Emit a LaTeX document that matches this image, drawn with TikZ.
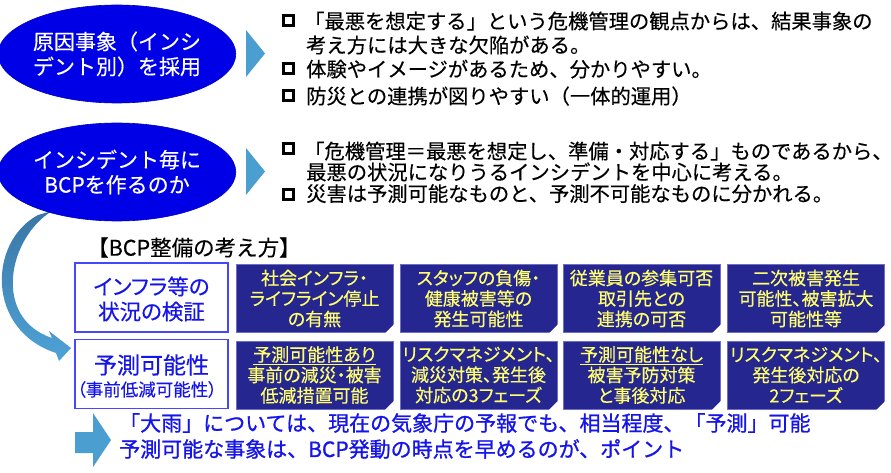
\documentclass[tikz,border=0pt]{standalone}
\usepackage{fontspec}
\setmainfont{Noto Sans CJK JP}[FakeBold=0.3]
\newfontfamily\pfont{Noto Sans CJK JP}[RawFeature=+palt,FakeBold=0.3]
\newfontfamily\bfnt{Noto Sans CJK JP}[FakeBold=0.9]
\usetikzlibrary{shapes.geometric}
\definecolor{ellblue}{RGB}{0,0,230}
\definecolor{chevblue}{RGB}{75,158,208}
\definecolor{navy}{RGB}{38,38,145}
\definecolor{dboxedge}{RGB}{110,110,200}
\definecolor{yel}{RGB}{255,255,110}
\definecolor{lboxblue}{RGB}{70,70,255}
\definecolor{ltxtblue}{RGB}{20,20,235}
\definecolor{arrtop}{RGB}{58,118,165}
\definecolor{arrbot}{RGB}{78,162,215}
\tikzset{
 ell/.style={ellipse, fill=ellblue, draw=ellblue!85!black, line width=0.6pt, minimum width=234pt, minimum height=98pt, text=white, align=center, inner sep=0pt, font=\fontsize{21}{25}\selectfont},
 chev/.style={fill=chevblue},
 btxt/.style={anchor=base west, inner sep=0pt, font=\fontsize{20.3}{23}\selectfont},
 bsq/.style={draw=black, line width=3pt, minimum size=10pt, inner sep=0pt},
 lbox/.style={draw=lboxblue, line width=1.2pt, fill=white, minimum width=153pt, minimum height=69pt, inner sep=0pt},
 ltxt/.style={text=ltxtblue, align=center, inner sep=0pt},
 dbox/.style={draw=dboxedge, line width=0.8pt, fill=navy, minimum width=157pt, minimum height=68pt, inner sep=0pt, text=yel, align=center, font=\pfont\fontsize{18}{20.5}\selectfont},
}
\newcommand{\foldcorner}[1]{\fill[white] ([shift={(-9,1)}]#1.south east) -- ([shift={(1,1)}]#1.south east) -- ([shift={(1,-9)}]#1.south east) -- cycle;}
\begin{document}
\begin{tikzpicture}[x=1pt,y=-1pt]
\useasboundingbox (0,0) rectangle (891,473);
\fill[white] (0,0) rectangle (891,473);

% curved arrow
\shade[top color=arrtop, bottom color=arrbot]
 (38,215) -- (52,211)
 .. controls (8,238) and (-8,318) .. (52,338)
 -- (49,331) -- (71,348) -- (59,361) -- (56,353)
 .. controls (-14,330) and (-12,242) .. (38,215) -- cycle;

% ellipses
\node[ell] (e1) at (117,54) {原因事象（インシ\\デント別）を採用};
\node[ell] (e2) at (117,172) {インシデント毎に\\BCPを作るのか};

% chevrons
\fill[chev] (246,30) -- (265,53.5) -- (246,77) -- cycle;
\fill[chev] (246,148) -- (265,171.5) -- (246,195) -- cycle;

% bullets block 1
\node[bsq] (s1) at (288.5,21) {};
\node[bsq] (s2) at (288.5,69) {};
\node[bsq] (s3) at (288.5,96) {};
\node[btxt] (t1) at (304,28.8) {「最悪を想定する」という危機管理の観点からは、結果事象の};
\node[btxt] (t2) at (306,52.8) {考え方には大きな欠陥がある。};
\node[btxt] (t3) at (306,76.8) {体験やイメージがあるため、分かりやすい。};
\node[btxt] (t4) at (306,103.8) {防災との連携が図りやすい（一体的運用）};

% bullets block 2
\node[bsq] (s4) at (288.5,149) {};
\node[bsq] (s5) at (288.5,194.5) {};
\node[btxt] (t5) at (304,158.8) {「危機管理＝最悪を想定し、準備・対応する」ものであるから、};
\node[btxt] (t6) at (306,179.8) {最悪の状況になりうるインシデントを中心に考える。};
\node[btxt] (t7) at (306,201.3) {災害は予測可能なものと、予測不可能なものに分かれる。};

% title
\node[anchor=west, inner sep=0pt, font=\fontsize{21.5}{24}\selectfont] (title) at (87,247.5) {【BCP整備の考え方】};

% left boxes
\node[lbox] (l1) at (151.5,297.5) {};
\node[ltxt, font=\pfont\fontsize{21.5}{25}\selectfont] (l1t) at (151.5,299) {インフラ等の\\状況の検証};
\node[lbox] (l2) at (151.5,374) {};
\node[ltxt, font=\pfont\fontsize{23}{26}\selectfont] (l2a) at (151.5,365) {予測可能性};
\node[ltxt, font=\pfont\fontsize{17.5}{20}\selectfont] (l2b) at (147,389.5) {（事前低減可能性）};

% dark boxes row 1
\node[dbox] (d11) at (314.5,298.5) {社会インフラ・\\ライフライン停止\\の有無};
\node[dbox] (d12) at (478.5,298.5) {スタッフの負傷・\\健康被害等の\\発生可能性};
\node[dbox] (d13) at (641.5,298.5) {従業員の参集可否\\取引先との\\連携の可否};
\node[dbox] (d14) at (806,298.5) {二次被害発生\\可能性、被害拡大\\可能性等};
% dark boxes row 2
\node[dbox] (d21) at (314.5,375) {\underline{予測可能性あり}\\事前の減災・被害\\低減措置可能};
\node[dbox] (d22) at (478.5,375) {リスクマネジメント、\\減災対策、発生後\\対応の3フェーズ};
\node[dbox] (d23) at (641.5,375) {\underline{予測可能性なし}\\被害予防対策\\と事後対応};
\node[dbox] (d24) at (806,375) {リスクマネジメント、\\発生後対応の\\2フェーズ};
\foldcorner{d11}\foldcorner{d12}\foldcorner{d13}\foldcorner{d14}
\foldcorner{d21}\foldcorner{d22}\foldcorner{d23}\foldcorner{d24}

% bottom block arrow
\fill[chevblue] (75,432) -- (93,432) -- (93,413) -- (111,440) -- (93,467) -- (93,453) -- (75,453) -- cycle;

% bottom text
\node[anchor=west, inner sep=0pt, align=left, text=ltxtblue, font=\bfnt\fontsize{21}{26}\selectfont] (bt) at (119,436) {「大雨」については、現在の気象庁の予報でも、相当程度、「予測」可能\\予測可能な事象は、BCP発動の時点を早めるのが、ポイント};
\end{tikzpicture}
\end{document}
